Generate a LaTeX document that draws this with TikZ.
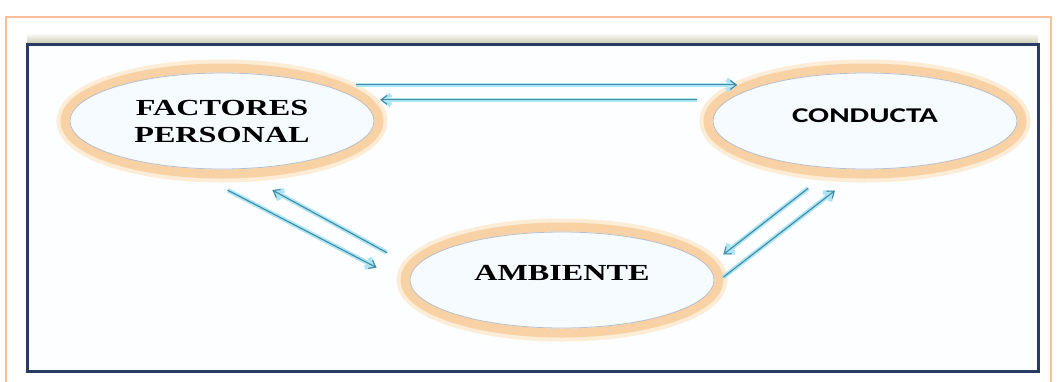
\documentclass[tikz,border=0pt]{standalone}
\usepackage{fontspec}
\usetikzlibrary{shapes.geometric,arrows.meta}
\newfontfamily\serifwide[FakeStretch=1.4]{Liberation Serif}
\newfontfamily\sanswide[FakeStretch=1.48]{Carlito}
\definecolor{ringout}{RGB}{253,236,214}
\definecolor{ringin}{RGB}{248,210,164}
\definecolor{ringedge}{RGB}{185,190,205}
\definecolor{ovalfill}{RGB}{246,251,255}
\definecolor{flowline}{RGB}{66,138,165}
\definecolor{flowglow}{RGB}{172,229,243}
\definecolor{framedark}{RGB}{40,60,98}
\definecolor{frameorange}{RGB}{247,192,152}

\begin{document}
\begin{tikzpicture}[x=1pt,y=-1pt,
	oval/.style={ellipse, minimum width=314pt, minimum height=106pt, inner sep=0pt,
		line width=9pt, draw=ringin, fill=ovalfill,
		preaction={draw=ringout, line width=17pt}, align=center},
	ovaledge/.style={draw=ringedge, line width=0.8pt},
	serifword/.style={font={\serifwide\bfseries\fontsize{23}{27}\selectfont}},
	sansword/.style={font={\sanswide\bfseries\fontsize{21}{25}\selectfont}},
	flow/.style={line width=1.1pt, draw=flowline, -{Straight Barb[length=6pt,width=9pt]},
		preaction={draw=flowglow, line width=4.5pt, -{Straight Barb[length=7pt,width=11pt]}}}]
	%%%%% FRAME %%%%%
	\fill[white] (0,0) rectangle (1059,381);
	\useasboundingbox (0,0) rectangle (1059,381);
	\draw[frameorange, line width=2pt] (6,400) -- (6,17) -- (1051,17) -- (1051,400);
	\shade[top color=white, bottom color={rgb,255:red,205;green,205;blue,180}] (27,33) rectangle (1038,43);
	\draw[framedark, line width=3pt, fill={rgb,255:red,252;green,254;blue,255}] (27,44) rectangle (1038,371);
	
	%%%%% OVALS %%%%%
	\node[oval, serifword] (fac) at (222,121) {FACTORES\\PERSONAL};
	\node[oval, sansword, text height=14pt, text depth=12pt] (con) at (865,121) {CONDUCTA};
	\node[oval, serifword, text height=15pt, text depth=14pt] (amb) at (562,280) {AMBIENTE};
	
	\draw[ovaledge] (fac.center) ellipse (152 and 48);
	\draw[ovaledge] (con.center) ellipse (152 and 48);
	\draw[ovaledge] (amb.center) ellipse (152 and 48);
	
	%%%%% ARROWS %%%%%
	\draw[flow, shorten <=8pt, shorten >=2pt] (fac.16) -- (con.164);
	\draw[flow, shorten <=18pt, shorten >=8pt] (con.172) -- (fac.8);
	
	\draw[flow, shorten <=26pt, shorten >=27pt] (fac.253) -- (amb.180);
	\draw[flow, shorten <=23pt, shorten >=26pt] (amb.174) -- (fac.296);
	
	\draw[flow, shorten <=19pt, shorten >=11pt] (con.233) -- (amb.7);
	\draw[flow, shorten >=20pt] (amb.1) -- (con.256);
\end{tikzpicture}
\end{document}
